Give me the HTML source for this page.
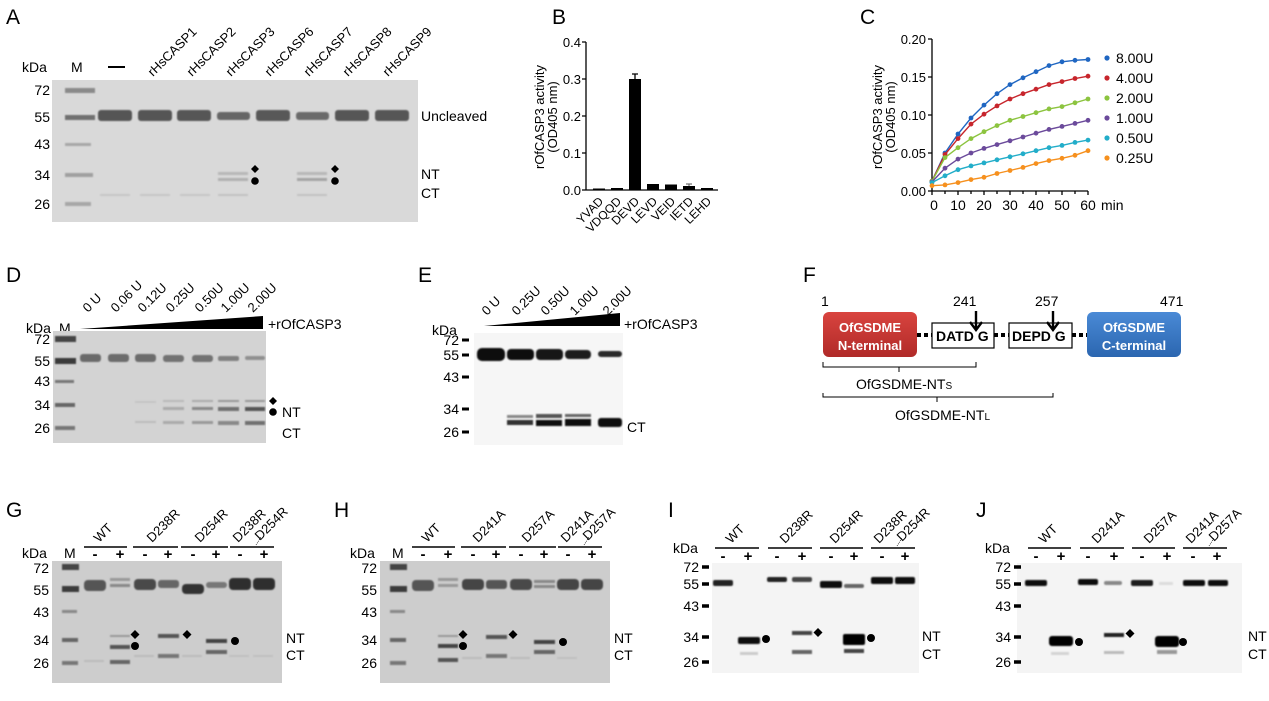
<!DOCTYPE html>
<html><head><meta charset="utf-8"><style>
html,body{margin:0;padding:0;background:#fff}
svg{display:block}
text{font-family:"Liberation Sans",Arial,sans-serif;fill:#000}
</style></head><body>
<svg width="1269" height="701" viewBox="0 0 1269 701" xmlns="http://www.w3.org/2000/svg">
<defs>
<filter id="bl" x="-20%" y="-100%" width="140%" height="300%"><feGaussianBlur stdDeviation="0.9"/></filter>
<marker id="mb" markerWidth="6" markerHeight="6" refX="3" refY="3" markerUnits="userSpaceOnUse"><circle cx="3" cy="3" r="2.4" fill="#1f66c2"/></marker>
<marker id="mr" markerWidth="6" markerHeight="6" refX="3" refY="3" markerUnits="userSpaceOnUse"><circle cx="3" cy="3" r="2.4" fill="#c7252c"/></marker>
<marker id="mg" markerWidth="6" markerHeight="6" refX="3" refY="3" markerUnits="userSpaceOnUse"><circle cx="3" cy="3" r="2.4" fill="#8cc43f"/></marker>
<marker id="mp" markerWidth="6" markerHeight="6" refX="3" refY="3" markerUnits="userSpaceOnUse"><circle cx="3" cy="3" r="2.4" fill="#6b4a9b"/></marker>
<marker id="mc" markerWidth="6" markerHeight="6" refX="3" refY="3" markerUnits="userSpaceOnUse"><circle cx="3" cy="3" r="2.4" fill="#22adc9"/></marker>
<marker id="mo" markerWidth="6" markerHeight="6" refX="3" refY="3" markerUnits="userSpaceOnUse"><circle cx="3" cy="3" r="2.4" fill="#f6901e"/></marker>
<linearGradient id="red" x1="0" y1="0" x2="0" y2="1"><stop offset="0" stop-color="#d9443f"/><stop offset="1" stop-color="#b02a28"/></linearGradient>
<linearGradient id="blu" x1="0" y1="0" x2="0" y2="1"><stop offset="0" stop-color="#4a8ad6"/><stop offset="1" stop-color="#2b66b0"/></linearGradient>
</defs>

<!-- ================= A ================= -->
<text x="6" y="24" font-size="21">A</text>
<text x="22" y="72" font-size="14">kDa</text>
<text x="71" y="72" font-size="14">M</text>
<rect x="108" y="66" width="17" height="2" fill="#000"/>
<g font-size="13">
<text transform="translate(153,77) rotate(-45)">rHsCASP1</text>
<text transform="translate(192,77) rotate(-45)">rHsCASP2</text>
<text transform="translate(231,77) rotate(-45)">rHsCASP3</text>
<text transform="translate(270,77) rotate(-45)">rHsCASP6</text>
<text transform="translate(309,77) rotate(-45)">rHsCASP7</text>
<text transform="translate(348,77) rotate(-45)">rHsCASP8</text>
<text transform="translate(388,77) rotate(-45)">rHsCASP9</text>
</g>
<rect x="52" y="80" width="366" height="142" fill="#d9d9d9"/>
<g filter="url(#bl)">
<rect x="65" y="88" width="30" height="5" fill="#8a8a8a"/>
<rect x="65" y="115" width="30" height="5" fill="#6f6f6f"/>
<rect x="65" y="143" width="26" height="3" fill="#a8a8a8"/>
<rect x="65" y="173" width="28" height="4" fill="#a0a0a0"/>
<rect x="65" y="202" width="26" height="4" fill="#a8a8a8"/>
<rect x="98" y="110" width="34" height="11" rx="3" fill="#555"/>
<rect x="138" y="110" width="34" height="11" rx="3" fill="#555"/>
<rect x="177" y="110" width="34" height="11" rx="3" fill="#575757"/>
<rect x="217" y="112" width="33" height="8" rx="3" fill="#666"/>
<rect x="256" y="110" width="34" height="11" rx="3" fill="#585858"/>
<rect x="296" y="112" width="33" height="8" rx="3" fill="#6a6a6a"/>
<rect x="335" y="110" width="34" height="11" rx="3" fill="#565656"/>
<rect x="375" y="110" width="34" height="11" rx="3" fill="#565656"/>
<rect x="218" y="172" width="30" height="3" fill="#b8b8b8"/>
<rect x="218" y="178" width="30" height="3" fill="#b0b0b0"/>
<rect x="297" y="172" width="30" height="3" fill="#b8b8b8"/>
<rect x="297" y="178" width="30" height="3" fill="#a4a4a4"/>
<rect x="100" y="194" width="30" height="2" fill="#c6c6c6"/>
<rect x="140" y="194" width="30" height="2" fill="#c6c6c6"/>
<rect x="180" y="194" width="30" height="2" fill="#c6c6c6"/>
<rect x="218" y="194" width="30" height="2" fill="#c2c2c2"/>
<rect x="297" y="194" width="30" height="2" fill="#c2c2c2"/>
</g>
<g font-size="14" text-anchor="end">
<text x="50" y="95">72</text><text x="50" y="122">55</text><text x="50" y="149">43</text>
<text x="50" y="180">34</text><text x="50" y="209">26</text>
</g>
<path d="M255 165 l4 4 -4 4 -4 -4z M335 165 l4 4 -4 4 -4 -4z"/>
<circle cx="255" cy="181" r="3.8"/><circle cx="335" cy="181" r="3.8"/>
<text x="421" y="121" font-size="14">Uncleaved</text>
<text x="421" y="179" font-size="14">NT</text>
<text x="421" y="198" font-size="14">CT</text>

<!-- ================= B ================= -->
<text x="552" y="24" font-size="21">B</text>
<g font-size="13" text-anchor="end">
<text x="581" y="47">0.4</text><text x="581" y="84">0.3</text><text x="581" y="121">0.2</text>
<text x="581" y="158">0.1</text><text x="581" y="195">0.0</text>
</g>
<text transform="translate(544,117) rotate(-90)" font-size="13" text-anchor="middle">rOfCASP3 activity</text>
<text transform="translate(557,117) rotate(-90)" font-size="13" text-anchor="middle">(OD405 nm)</text>
<path d="M586 42 V190 H718 M582 42 H586 M582 79 H586 M582 116 H586 M582 153 H586 M582 190 H586" stroke="#000" stroke-width="1.3" fill="none"/>
<rect x="593" y="188.5" width="12" height="1.5"/>
<rect x="611" y="188" width="12" height="2"/>
<rect x="629" y="79" width="12" height="111"/>
<path d="M635 79 V74 M632 74 H638" stroke="#000" stroke-width="1.3"/>
<rect x="647" y="184" width="12" height="6"/>
<rect x="665" y="184.5" width="12" height="5.5"/>
<rect x="683" y="186" width="12" height="4"/>
<path d="M689 186 V184 M686 184 H692" stroke="#555"/>
<rect x="701" y="188" width="12" height="2"/>
<g font-size="12" text-anchor="end">
<text transform="translate(604,202) rotate(-45)">YVAD</text>
<text transform="translate(622,202) rotate(-45)">VDQQD</text>
<text transform="translate(640,202) rotate(-45)">DEVD</text>
<text transform="translate(658,202) rotate(-45)">LEVD</text>
<text transform="translate(676,202) rotate(-45)">VEID</text>
<text transform="translate(694,202) rotate(-45)">IETD</text>
<text transform="translate(712,202) rotate(-45)">LEHD</text>
</g>

<!-- ================= C ================= -->
<text x="860" y="24" font-size="21">C</text>
<g font-size="13" text-anchor="end">
<text x="926" y="44">0.20</text><text x="926" y="82">0.15</text><text x="926" y="120">0.10</text>
<text x="926" y="158">0.05</text><text x="926" y="196">0.00</text>
</g>
<text transform="translate(882,117) rotate(-90)" font-size="13" text-anchor="middle">rOfCASP3 activity</text>
<text transform="translate(895,117) rotate(-90)" font-size="13" text-anchor="middle">(OD405 nm)</text>
<path d="M932 39 V191 H1088 M928 39 H932 M928 77 H932 M928 115 H932 M928 153 H932 M928 191 H932" stroke="#000" stroke-width="1.3" fill="none"/>
<path d="M932 191 v4 M945 191 v3 M958 191 v4 M971 191 v3 M984 191 v4 M997 191 v3 M1010 191 v4 M1023 191 v3 M1036 191 v4 M1049 191 v3 M1062 191 v4 M1075 191 v3 M1088 191 v4" stroke="#000" stroke-width="1.3"/>
<g font-size="14" text-anchor="middle">
<text x="934" y="210">0</text><text x="958" y="210">10</text><text x="984" y="210">20</text>
<text x="1010" y="210">30</text><text x="1036" y="210">40</text><text x="1062" y="210">50</text>
<text x="1088" y="210">60</text>
</g>
<text x="1101" y="210" font-size="14">min</text>
<g fill="none" stroke-width="1.4">
<polyline stroke="#1f66c2" marker-start="url(#mb)" marker-mid="url(#mb)" marker-end="url(#mb)" points="932,181.1 945,153 958,134 971,118 984,105.1 997,93.7 1010,84.6 1023,77.8 1036,71.7 1049,65.6 1062,61.8 1075,60.3 1088,59.5"/>
<polyline stroke="#c7252c" marker-start="url(#mr)" marker-mid="url(#mr)" marker-end="url(#mr)" points="932,181.1 945,154.5 958,138.6 971,124.1 984,114.2 997,105.9 1010,99 1023,93.7 1036,89.2 1049,84.6 1062,81.6 1075,78.5 1088,76.2"/>
<polyline stroke="#8cc43f" marker-start="url(#mg)" marker-mid="url(#mg)" marker-end="url(#mg)" points="932,181.1 945,157.6 958,147.7 971,138.6 984,131.7 997,125.6 1010,120.3 1023,116.5 1036,112.7 1049,108.9 1062,106.6 1075,102.8 1088,99"/>
<polyline stroke="#6b4a9b" marker-start="url(#mp)" marker-mid="url(#mp)" marker-end="url(#mp)" points="932,181.9 945,168.2 958,159.1 971,153 984,148.4 997,144.6 1010,140.8 1023,137 1036,133.2 1049,129.4 1062,126.4 1075,123.4 1088,120.3"/>
<polyline stroke="#22adc9" marker-start="url(#mc)" marker-mid="url(#mc)" marker-end="url(#mc)" points="932,182.6 945,175.8 958,169.7 971,165.9 984,162.9 997,159.8 1010,156.8 1023,153.8 1036,150.7 1049,147.7 1062,145.4 1075,142.4 1088,140.1"/>
<polyline stroke="#f6901e" marker-start="url(#mo)" marker-mid="url(#mo)" marker-end="url(#mo)" points="932,185.7 945,184.9 958,182.6 971,179.6 984,177.3 997,173.5 1010,170.5 1023,167.4 1036,163.6 1049,160.6 1062,158.3 1075,155.3 1088,150.7"/>
</g>
<circle cx="1107" cy="58" r="2.6" fill="#1f66c2"/><circle cx="1107" cy="78" r="2.6" fill="#c7252c"/>
<circle cx="1107" cy="98" r="2.6" fill="#8cc43f"/><circle cx="1107" cy="118" r="2.6" fill="#6b4a9b"/>
<circle cx="1107" cy="138" r="2.6" fill="#22adc9"/><circle cx="1107" cy="158" r="2.6" fill="#f6901e"/>
<g font-size="14">
<text x="1116" y="63">8.00U</text><text x="1116" y="83">4.00U</text><text x="1116" y="103">2.00U</text>
<text x="1116" y="123">1.00U</text><text x="1116" y="143">0.50U</text><text x="1116" y="163">0.25U</text>
</g>

<!-- ================= D ================= -->
<text x="6" y="282" font-size="21">D</text>
<text x="26" y="333" font-size="14">kDa</text>
<text x="59" y="333" font-size="14">M</text>
<g font-size="13">
<text transform="translate(88,313) rotate(-45)">0 U</text>
<text transform="translate(116,313) rotate(-45)">0.06 U</text>
<text transform="translate(143,313) rotate(-45)">0.12U</text>
<text transform="translate(171,313) rotate(-45)">0.25U</text>
<text transform="translate(200,313) rotate(-45)">0.50U</text>
<text transform="translate(226,313) rotate(-45)">1.00U</text>
<text transform="translate(253,313) rotate(-45)">2.00U</text>
</g>
<path d="M80 329 L263 316 V329 Z"/>
<text x="268" y="329" font-size="14">+rOfCASP3</text>
<rect x="53" y="331" width="213" height="112" fill="#d3d3d3"/>
<g filter="url(#bl)">
<rect x="55" y="336" width="21" height="6" fill="#444"/>
<rect x="55" y="358" width="21" height="6" fill="#3a3a3a"/>
<rect x="55" y="380" width="19" height="3" fill="#777"/>
<rect x="55" y="403" width="20" height="4" fill="#666"/>
<rect x="55" y="426" width="20" height="4" fill="#777"/>
<rect x="80" y="354" width="21" height="8" rx="3" fill="#6a6a6a"/>
<rect x="108" y="354" width="21" height="8" rx="3" fill="#6c6c6c"/>
<rect x="135" y="354" width="21" height="8" rx="3" fill="#6c6c6c"/>
<rect x="163" y="355" width="21" height="7" rx="3" fill="#727272"/>
<rect x="192" y="355" width="21" height="7" rx="3" fill="#727272"/>
<rect x="218" y="356" width="21" height="5" rx="2" fill="#808080"/>
<rect x="245" y="356" width="20" height="4" rx="2" fill="#909090"/>
<rect x="135" y="401" width="21" height="2" fill="#c4c4c4"/>
<rect x="135" y="421" width="21" height="2" fill="#bcbcbc"/>
<rect x="163" y="400" width="21" height="2" fill="#b8b8b8"/>
<rect x="163" y="407" width="21" height="3" fill="#aaa"/>
<rect x="163" y="421" width="21" height="3" fill="#aaa"/>
<rect x="192" y="400" width="21" height="2" fill="#aaa"/>
<rect x="192" y="407" width="21" height="3" fill="#888"/>
<rect x="192" y="421" width="21" height="3" fill="#999"/>
<rect x="218" y="400" width="21" height="2" fill="#999"/>
<rect x="218" y="407" width="21" height="4" fill="#707070"/>
<rect x="218" y="421" width="21" height="4" fill="#888"/>
<rect x="245" y="400" width="20" height="2" fill="#999"/>
<rect x="245" y="407" width="20" height="4" fill="#555"/>
<rect x="245" y="421" width="20" height="4" fill="#707070"/>
</g>
<g font-size="14" text-anchor="end">
<text x="50" y="344">72</text><text x="50" y="366">55</text><text x="50" y="386">43</text>
<text x="50" y="410">34</text><text x="50" y="433">26</text>
</g>
<path d="M273 397 l4 4 -4 4 -4 -4z"/><circle cx="273" cy="412" r="3.8"/>
<text x="282" y="417" font-size="14">NT</text>
<text x="282" y="438" font-size="14">CT</text>

<!-- ================= E ================= -->
<text x="418" y="282" font-size="21">E</text>
<text x="432" y="335" font-size="14">kDa</text>
<g font-size="13">
<text transform="translate(487,316) rotate(-45)">0 U</text>
<text transform="translate(517,316) rotate(-45)">0.25U</text>
<text transform="translate(546,316) rotate(-45)">0.50U</text>
<text transform="translate(575,316) rotate(-45)">1.00U</text>
<text transform="translate(608,316) rotate(-45)">2.00U</text>
</g>
<path d="M484 326 L620 313 V326 Z"/>
<text x="624" y="329" font-size="14">+rOfCASP3</text>
<rect x="474" y="333" width="149" height="112" fill="#f6f6f6"/>
<g font-size="14" text-anchor="end">
<text x="459" y="345">72</text><text x="459" y="360">55</text><text x="459" y="382">43</text>
<text x="459" y="414">34</text><text x="459" y="437">26</text>
</g>
<path d="M462 340 h7 M462 355 h7 M462 377 h7 M462 409 h7 M462 432 h7" stroke="#000" stroke-width="3"/>
<g filter="url(#bl)">
<rect x="477" y="348" width="28" height="13" rx="5" fill="#0a0a0a"/>
<rect x="507" y="349" width="27" height="11" rx="4" fill="#111"/>
<rect x="536" y="349" width="27" height="11" rx="4" fill="#141414"/>
<rect x="565" y="350" width="26" height="9" rx="4" fill="#1a1a1a"/>
<rect x="598" y="351" width="24" height="6" rx="3" fill="#2a2a2a"/>
<rect x="507" y="415" width="26" height="3" fill="#888"/>
<rect x="507" y="420" width="26" height="5" fill="#333"/>
<rect x="536" y="414" width="26" height="4" fill="#555"/>
<rect x="536" y="420" width="26" height="6" fill="#111"/>
<rect x="565" y="414" width="26" height="3" fill="#666"/>
<rect x="565" y="419" width="26" height="7" fill="#0e0e0e"/>
<rect x="598" y="418" width="24" height="9" rx="3" fill="#0a0a0a"/>
</g>
<text x="627" y="432" font-size="14">CT</text>

<!-- ================= F ================= -->
<text x="803" y="282" font-size="21">F</text>
<g font-size="14">
<text x="821" y="306">1</text><text x="953" y="306">241</text><text x="1035" y="306">257</text><text x="1160" y="306">471</text>
</g>
<path d="M917 335 H932 M994 335 H1009 M1072 335 H1087" stroke="#000" stroke-width="4" stroke-dasharray="4 3"/>
<rect x="823" y="312" width="94" height="45" rx="6" fill="url(#red)"/>
<rect x="1087" y="312" width="94" height="45" rx="6" fill="url(#blu)"/>
<g font-size="13" font-weight="bold" text-anchor="middle">
<text x="870" y="332" style="fill:#fff">OfGSDME</text><text x="870" y="350" style="fill:#fff">N-terminal</text>
<text x="1134" y="332" style="fill:#fff">OfGSDME</text><text x="1134" y="350" style="fill:#fff">C-terminal</text>
</g>
<rect x="932" y="323" width="62" height="25" fill="#fff" stroke="#000" stroke-width="1.2"/>
<rect x="1009" y="323" width="63" height="25" fill="#fff" stroke="#000" stroke-width="1.2"/>
<g font-size="14" font-weight="bold">
<text x="936" y="341">DATD G</text><text x="1012" y="341">DEPD G</text>
</g>
<path d="M976 311 V330 M970 322 L976 330 L982 322 M1053 311 V330 M1047 322 L1053 330 L1059 322" stroke="#000" stroke-width="2.4" fill="none"/>
<path d="M823 362 V367 H976 V362 M899 367 V372 M823 393 V397 H1053 V393 M937 397 V402" stroke="#000" stroke-width="1" fill="none"/>
<text x="856" y="389" font-size="14">OfGSDME-NT<tspan font-size="10">S</tspan></text>
<text x="895" y="420" font-size="14">OfGSDME-NT<tspan font-size="10">L</tspan></text>

<!-- ================= G ================= -->
<text x="6" y="517" font-size="21">G</text>
<text x="22" y="558" font-size="14">kDa</text>
<text x="64" y="558" font-size="14">M</text>
<path d="M84 547 H127 M133 547 H178 M181 547 H228 M230 547 H274" stroke="#000" stroke-width="1.5"/>
<g font-size="13">
<text transform="translate(99,543) rotate(-45)">WT</text>
<text transform="translate(152,543) rotate(-45)">D238R</text>
<text transform="translate(200,543) rotate(-45)">D254R</text>
<text transform="translate(238,543) rotate(-45)">D238R</text>
<text transform="translate(260,541) rotate(-45)">D254R</text>
</g>
<path d="M256 545 L261 537" stroke="#000" stroke-width="0.7" stroke-dasharray="1 1"/>
<g font-size="15" font-weight="bold" text-anchor="middle">
<text x="95" y="559">-</text><text x="120" y="559">+</text><text x="145" y="559">-</text><text x="168" y="559">+</text>
<text x="193" y="559">-</text><text x="216" y="559">+</text><text x="240" y="559">-</text><text x="264" y="559">+</text>
</g>
<rect x="52" y="561" width="230" height="122" fill="#cdcdcd"/>
<g filter="url(#bl)">
<rect x="62" y="564" width="17" height="6" fill="#444"/>
<rect x="62" y="586" width="17" height="6" fill="#3a3a3a"/>
<rect x="62" y="610" width="15" height="3" fill="#888"/>
<rect x="62" y="638" width="16" height="4" fill="#666"/>
<rect x="62" y="661" width="16" height="4" fill="#777"/>
<rect x="84" y="580" width="22" height="11" rx="4" fill="#555"/>
<rect x="110" y="578" width="20" height="3" fill="#999"/>
<rect x="110" y="584" width="20" height="3" fill="#888"/>
<rect x="134" y="579" width="22" height="11" rx="4" fill="#4a4a4a"/>
<rect x="158" y="580" width="21" height="8" rx="3" fill="#666"/>
<rect x="182" y="584" width="22" height="10" rx="4" fill="#333"/>
<rect x="206" y="582" width="21" height="6" rx="3" fill="#777"/>
<rect x="229" y="578" width="22" height="12" rx="4" fill="#2e2e2e"/>
<rect x="253" y="578" width="22" height="12" rx="4" fill="#2e2e2e"/>
<rect x="110" y="635" width="20" height="2" fill="#999"/>
<rect x="110" y="645" width="20" height="4" fill="#555"/>
<rect x="110" y="660" width="20" height="4" fill="#666"/>
<rect x="158" y="634" width="21" height="4" fill="#555"/>
<rect x="158" y="654" width="21" height="4" fill="#777"/>
<rect x="206" y="639" width="21" height="4" fill="#444"/>
<rect x="206" y="650" width="21" height="4" fill="#666"/>
<rect x="84" y="660" width="20" height="2" fill="#bbb"/>
<rect x="134" y="655" width="20" height="2" fill="#bbb"/>
<rect x="182" y="655" width="20" height="2" fill="#bbb"/>
<rect x="229" y="655" width="20" height="2" fill="#c0c0c0"/>
<rect x="253" y="655" width="20" height="2" fill="#c0c0c0"/>
</g>
<g font-size="14" text-anchor="end">
<text x="49" y="573">72</text><text x="49" y="595">55</text><text x="49" y="617">43</text>
<text x="49" y="645">34</text><text x="49" y="668">26</text>
</g>
<path d="M135 630 l4.5 4.5 -4.5 4.5 -4.5 -4.5z M187 630 l4.5 4.5 -4.5 4.5 -4.5 -4.5z"/>
<circle cx="135" cy="646" r="4"/><circle cx="235" cy="641" r="4"/>
<text x="286" y="643" font-size="14">NT</text><text x="286" y="660" font-size="14">CT</text>

<!-- ================= H ================= -->
<text x="334" y="517" font-size="21">H</text>
<text x="350" y="558" font-size="14">kDa</text>
<text x="392" y="558" font-size="14">M</text>
<path d="M412 547 H455 M461 547 H506 M509 547 H556 M558 547 H602" stroke="#000" stroke-width="1.5"/>
<g font-size="13">
<text transform="translate(427,543) rotate(-45)">WT</text>
<text transform="translate(478,543) rotate(-45)">D241A</text>
<text transform="translate(527,543) rotate(-45)">D257A</text>
<text transform="translate(566,543) rotate(-45)">D241A</text>
<text transform="translate(588,541) rotate(-45)">D257A</text>
</g>
<path d="M584 545 L589 537" stroke="#000" stroke-width="0.7" stroke-dasharray="1 1"/>
<g font-size="15" font-weight="bold" text-anchor="middle">
<text x="423" y="559">-</text><text x="448" y="559">+</text><text x="473" y="559">-</text><text x="496" y="559">+</text>
<text x="521" y="559">-</text><text x="544" y="559">+</text><text x="568" y="559">-</text><text x="592" y="559">+</text>
</g>
<rect x="380" y="561" width="230" height="122" fill="#cdcdcd"/>
<g filter="url(#bl)">
<rect x="390" y="564" width="17" height="6" fill="#444"/>
<rect x="390" y="586" width="17" height="6" fill="#3a3a3a"/>
<rect x="390" y="610" width="15" height="3" fill="#888"/>
<rect x="390" y="638" width="16" height="4" fill="#666"/>
<rect x="390" y="661" width="16" height="4" fill="#777"/>
<rect x="412" y="580" width="22" height="11" rx="4" fill="#555"/>
<rect x="438" y="578" width="20" height="3" fill="#999"/>
<rect x="438" y="584" width="20" height="3" fill="#999"/>
<rect x="462" y="579" width="22" height="11" rx="4" fill="#444"/>
<rect x="486" y="580" width="21" height="9" rx="3" fill="#555"/>
<rect x="510" y="579" width="22" height="11" rx="4" fill="#4a4a4a"/>
<rect x="534" y="580" width="21" height="3" fill="#888"/>
<rect x="534" y="585" width="21" height="3" fill="#888"/>
<rect x="557" y="579" width="22" height="11" rx="4" fill="#444"/>
<rect x="581" y="579" width="22" height="11" rx="4" fill="#444"/>
<rect x="438" y="635" width="20" height="2" fill="#999"/>
<rect x="438" y="644" width="20" height="4" fill="#444"/>
<rect x="438" y="658" width="20" height="4" fill="#555"/>
<rect x="486" y="635" width="21" height="4" fill="#555"/>
<rect x="486" y="654" width="21" height="4" fill="#777"/>
<rect x="534" y="640" width="21" height="4" fill="#444"/>
<rect x="534" y="650" width="21" height="4" fill="#666"/>
<rect x="462" y="657" width="20" height="2" fill="#bbb"/>
<rect x="510" y="657" width="20" height="2" fill="#bbb"/>
<rect x="557" y="657" width="20" height="2" fill="#c0c0c0"/>
</g>
<g font-size="14" text-anchor="end">
<text x="377" y="573">72</text><text x="377" y="595">55</text><text x="377" y="617">43</text>
<text x="377" y="645">34</text><text x="377" y="668">26</text>
</g>
<path d="M463 630 l4.5 4.5 -4.5 4.5 -4.5 -4.5z M513 630 l4.5 4.5 -4.5 4.5 -4.5 -4.5z"/>
<circle cx="463" cy="646" r="4"/><circle cx="563" cy="642" r="4"/>
<text x="614" y="643" font-size="14">NT</text><text x="614" y="660" font-size="14">CT</text>

<!-- ================= I ================= -->
<text x="668" y="517" font-size="21">I</text>
<text x="673" y="553" font-size="14">kDa</text>
<path d="M715 548 H759 M768 548 H812 M820 548 H863 M871 548 H915" stroke="#000" stroke-width="1.5"/>
<g font-size="13">
<text transform="translate(731,544) rotate(-45)">WT</text>
<text transform="translate(785,544) rotate(-45)">D238R</text>
<text transform="translate(835,544) rotate(-45)">D254R</text>
<text transform="translate(879,544) rotate(-45)">D238R</text>
<text transform="translate(902,542) rotate(-45)">D254R</text>
</g>
<path d="M897 546 L902 538" stroke="#000" stroke-width="0.7" stroke-dasharray="1 1"/>
<g font-size="15" font-weight="bold" text-anchor="middle">
<text x="723" y="561">-</text><text x="748" y="561">+</text><text x="777" y="561">-</text><text x="802" y="561">+</text>
<text x="831" y="561">-</text><text x="854" y="561">+</text><text x="882" y="561">-</text><text x="905" y="561">+</text>
</g>
<rect x="712" y="563" width="207" height="110" fill="#f4f4f4"/>
<g font-size="14" text-anchor="end">
<text x="699" y="572">72</text><text x="699" y="589">55</text><text x="699" y="611">43</text>
<text x="699" y="642">34</text><text x="699" y="667">26</text>
</g>
<path d="M702 567 h7 M702 584 h7 M702 606 h7 M702 637 h7 M702 662 h7" stroke="#000" stroke-width="3.5"/>
<g filter="url(#bl)">
<rect x="713" y="580" width="20" height="6" rx="2" fill="#222"/>
<rect x="767" y="577" width="20" height="5" rx="2" fill="#222"/>
<rect x="792" y="577" width="20" height="5" rx="2" fill="#444"/>
<rect x="820" y="581" width="22" height="7" rx="2" fill="#111"/>
<rect x="844" y="584" width="20" height="4" rx="2" fill="#666"/>
<rect x="871" y="577" width="22" height="7" rx="2" fill="#111"/>
<rect x="895" y="577" width="20" height="7" rx="2" fill="#111"/>
<rect x="738" y="637" width="22" height="7" rx="2" fill="#0a0a0a"/>
<rect x="740" y="652" width="18" height="3" fill="#ccc"/>
<rect x="792" y="631" width="20" height="4" fill="#444"/>
<rect x="792" y="650" width="20" height="4" fill="#666"/>
<rect x="843" y="634" width="22" height="11" rx="2" fill="#050505"/>
<rect x="844" y="649" width="20" height="4" fill="#444"/>
</g>
<circle cx="766" cy="639" r="4"/><path d="M818 628 l4.5 4.5 -4.5 4.5 -4.5 -4.5z"/><circle cx="871" cy="638" r="4"/>
<text x="922" y="641" font-size="14">NT</text><text x="922" y="659" font-size="14">CT</text>

<!-- ================= J ================= -->
<text x="976" y="517" font-size="21">J</text>
<text x="985" y="553" font-size="14">kDa</text>
<path d="M1028 548 H1071 M1080 548 H1124 M1132 548 H1175 M1183 548 H1227" stroke="#000" stroke-width="1.5"/>
<g font-size="13">
<text transform="translate(1044,544) rotate(-45)">WT</text>
<text transform="translate(1097,544) rotate(-45)">D241A</text>
<text transform="translate(1149,544) rotate(-45)">D257A</text>
<text transform="translate(1191,544) rotate(-45)">D241A</text>
<text transform="translate(1214,542) rotate(-45)">D257A</text>
</g>
<path d="M1209 546 L1214 538" stroke="#000" stroke-width="0.7" stroke-dasharray="1 1"/>
<g font-size="15" font-weight="bold" text-anchor="middle">
<text x="1036" y="561">-</text><text x="1061" y="561">+</text><text x="1088" y="561">-</text><text x="1114" y="561">+</text>
<text x="1142" y="561">-</text><text x="1167" y="561">+</text><text x="1193" y="561">-</text><text x="1217" y="561">+</text>
</g>
<rect x="1017" y="563" width="225" height="110" fill="#f4f4f4"/>
<g font-size="14" text-anchor="end">
<text x="1011" y="572">72</text><text x="1011" y="589">55</text><text x="1011" y="611">43</text>
<text x="1011" y="642">34</text><text x="1011" y="667">26</text>
</g>
<path d="M1014 567 h7 M1014 584 h7 M1014 606 h7 M1014 637 h7 M1014 662 h7" stroke="#000" stroke-width="3.5"/>
<g filter="url(#bl)">
<rect x="1025" y="580" width="22" height="6" rx="2" fill="#111"/>
<rect x="1078" y="579" width="20" height="6" rx="2" fill="#111"/>
<rect x="1104" y="581" width="18" height="4" rx="2" fill="#888"/>
<rect x="1131" y="580" width="22" height="6" rx="2" fill="#1a1a1a"/>
<rect x="1159" y="582" width="14" height="3" fill="#ddd"/>
<rect x="1183" y="580" width="22" height="6" rx="2" fill="#111"/>
<rect x="1208" y="580" width="20" height="6" rx="2" fill="#111"/>
<rect x="1049" y="636" width="24" height="10" rx="3" fill="#050505"/>
<rect x="1051" y="652" width="18" height="3" fill="#d4d4d4"/>
<rect x="1104" y="633" width="20" height="4" fill="#222"/>
<rect x="1104" y="651" width="20" height="3" fill="#bbb"/>
<rect x="1155" y="636" width="24" height="11" rx="3" fill="#050505"/>
<rect x="1157" y="650" width="20" height="4" fill="#999"/>
</g>
<circle cx="1079" cy="642" r="4"/><path d="M1130 629 l4.5 4.5 -4.5 4.5 -4.5 -4.5z"/><circle cx="1183" cy="642" r="4"/>
<text x="1248" y="641" font-size="14">NT</text><text x="1248" y="659" font-size="14">CT</text>
</svg>
</body></html>
